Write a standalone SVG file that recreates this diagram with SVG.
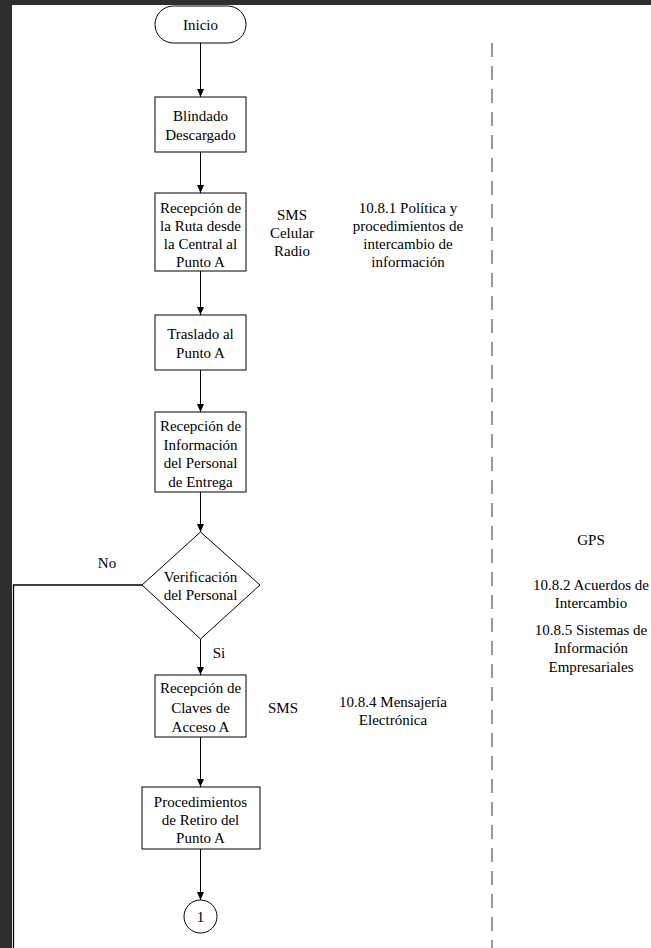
<svg xmlns="http://www.w3.org/2000/svg" width="651" height="948" viewBox="0 0 651 948">
  <defs>
    <marker id="arrow" viewBox="0 0 8 8" refX="8" refY="4" markerWidth="8" markerHeight="8" markerUnits="userSpaceOnUse" orient="auto">
      <path d="M0,0.5 L8,4 L0,7.5 Z" fill="#000"/>
    </marker>
    <style>
      .shape { fill: #fff; stroke: #000; stroke-width: 1; }
      .conn { fill: none; stroke: #000; stroke-width: 1; }
      .flow { marker-end: url(#arrow); }
      .lane { fill: none; stroke: #555; stroke-width: 1.2; stroke-dasharray: 14 9; }
      text { font-family: "Liberation Serif", "Times New Roman", serif; font-size: 15px; fill: #000; text-anchor: middle; }
    </style>
  </defs>

  <!-- page frame -->
  <rect x="0" y="0" width="651" height="948" fill="#2e2e2e"/>
  <rect x="12" y="5" width="639" height="943" fill="#fff"/>

  <!-- swimlane divider -->
  <line class="lane" x1="492" y1="43" x2="492" y2="948"/>

  <!-- connectors -->
  <g id="connectors">
    <line class="conn flow" x1="200.5" y1="43" x2="200.5" y2="97"/>
    <line class="conn flow" x1="200.5" y1="152" x2="200.5" y2="193"/>
    <line class="conn flow" x1="200.5" y1="271" x2="200.5" y2="315"/>
    <line class="conn flow" x1="200.5" y1="370" x2="200.5" y2="412"/>
    <line class="conn flow" x1="200.5" y1="492" x2="200.5" y2="532"/>
    <line class="conn flow" x1="200.5" y1="639" x2="200.5" y2="675"/>
    <line class="conn flow" x1="200.5" y1="737" x2="200.5" y2="787"/>
    <line class="conn flow" x1="200.5" y1="849" x2="200.5" y2="900"/>
    <polyline class="conn" points="142,585 13.5,585 13.5,948" style="stroke-width:1.3"/>
    <text x="107" y="568">No</text>
    <text x="219" y="658">Si</text>
  </g>

  <!-- nodes -->
  <g id="inicio">
    <rect class="shape" x="155" y="6" width="91" height="37" rx="18.5" ry="18.5"/>
    <text x="200.5" y="30">Inicio</text>
  </g>

  <g id="blindado">
    <rect class="shape" x="155" y="97" width="91" height="55"/>
    <text x="200.5" y="121">Blindado</text>
    <text x="200.5" y="140">Descargado</text>
  </g>

  <g id="recepcion-ruta">
    <rect class="shape" x="155" y="193" width="91" height="78"/>
    <text x="200.5" y="213">Recepción de</text>
    <text x="200.5" y="231">la Ruta desde</text>
    <text x="200.5" y="249">la Central al</text>
    <text x="200.5" y="267">Punto A</text>
  </g>

  <g id="medios-ruta">
    <text x="292" y="220">SMS</text>
    <text x="292" y="238">Celular</text>
    <text x="292" y="256">Radio</text>
  </g>

  <g id="control-1081">
    <text x="408" y="213">10.8.1 Política y</text>
    <text x="408" y="231">procedimientos de</text>
    <text x="408" y="249">intercambio de</text>
    <text x="408" y="267">información</text>
  </g>

  <g id="traslado">
    <rect class="shape" x="155" y="315" width="91" height="55"/>
    <text x="200.5" y="339">Traslado al</text>
    <text x="200.5" y="358">Punto A</text>
  </g>

  <g id="recepcion-informacion">
    <rect class="shape" x="155" y="412" width="91" height="80"/>
    <text x="200.5" y="431">Recepción de</text>
    <text x="200.5" y="449.5">Información</text>
    <text x="200.5" y="468">del Personal</text>
    <text x="200.5" y="486.5">de Entrega</text>
  </g>

  <g id="verificacion">
    <polygon class="shape" points="200.5,532 260,585 200.5,639 142,585"/>
    <text x="200.5" y="582">Verificación</text>
    <text x="200.5" y="600">del Personal</text>
  </g>

  <g id="recepcion-claves">
    <rect class="shape" x="155" y="675" width="91" height="62"/>
    <text x="200.5" y="693">Recepción de</text>
    <text x="200.5" y="713">Claves de</text>
    <text x="200.5" y="732">Acceso A</text>
  </g>

  <g id="medio-claves">
    <text x="283" y="713">SMS</text>
  </g>

  <g id="control-1084">
    <text x="393" y="707">10.8.4 Mensajería</text>
    <text x="393" y="725">Electrónica</text>
  </g>

  <g id="retiro">
    <rect class="shape" x="142" y="787" width="118" height="62"/>
    <text x="200.5" y="807">Procedimientos</text>
    <text x="200.5" y="825">de Retiro del</text>
    <text x="200.5" y="843">Punto A</text>
  </g>

  <g id="conector-1">
    <circle class="shape" cx="200.5" cy="916.5" r="16.5"/>
    <text x="200.5" y="921.5">1</text>
  </g>

  <g id="carril-derecho">
    <text x="591" y="545">GPS</text>
    <text x="591" y="590">10.8.2 Acuerdos de</text>
    <text x="591" y="608">Intercambio</text>
    <text x="591" y="635">10.8.5 Sistemas de</text>
    <text x="591" y="653">Información</text>
    <text x="591" y="672">Empresariales</text>
  </g>
</svg>
